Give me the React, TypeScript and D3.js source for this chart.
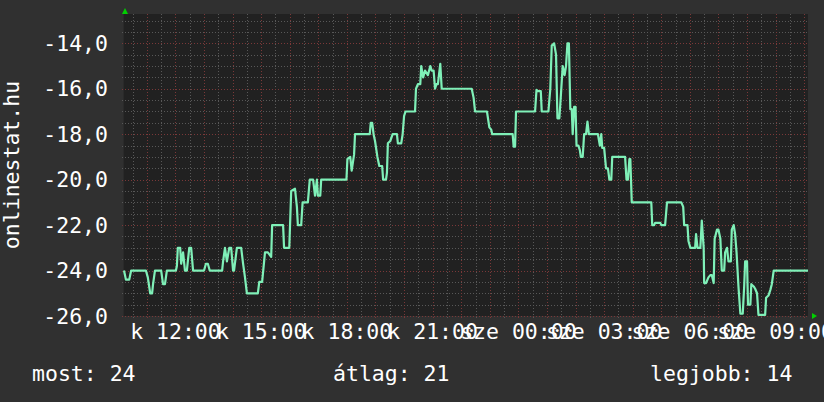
import React from 'react';
import * as d3 from 'd3';

// minutes after the window start (k 10:12) and the value at that moment
const minutes = [
  0, 4, 11, 15, 46, 50, 55, 59, 61, 65, 78, 82, 86, 90, 109, 111, 113, 118, 120, 124,
  128, 132, 137, 141, 145, 168, 172, 176, 180, 206, 208, 212, 216, 221, 225, 229, 231, 237, 246, 250,
  254, 258, 281, 284, 290, 296, 302, 309, 311, 334, 336, 347, 351, 359, 363, 365, 372, 375, 386, 390,
  397, 401, 405, 407, 412, 414, 467, 469, 475, 478, 483, 485, 516, 518, 521, 524, 527, 532, 536, 542,
  544, 550, 552, 554, 559, 564, 573, 575, 582, 585, 588, 591, 611, 613, 617, 622, 624, 628, 632, 638,
  643, 646, 650, 653, 656, 659, 664, 667, 730, 734, 737, 762, 767, 771, 773, 816, 818, 821, 823, 863,
  866, 869, 875, 877, 891, 895, 898, 903, 907, 910, 914, 917, 921, 925, 928, 931, 934, 937, 940, 942,
  945, 948, 950, 954, 957, 959, 963, 966, 970, 973, 976, 995, 999, 1002, 1004, 1008, 1012, 1016, 1019, 1023,
  1025, 1052, 1055, 1058, 1061, 1063, 1066, 1107, 1109, 1113, 1115, 1126, 1128, 1136, 1140, 1170, 1174, 1176, 1183, 1185,
  1189, 1199, 1201, 1204, 1210, 1213, 1217, 1218, 1222, 1227, 1231, 1234, 1238, 1240, 1245, 1248, 1252, 1255, 1260, 1262,
  1266, 1269, 1274, 1276, 1280, 1283, 1286, 1290, 1294, 1299, 1302, 1304, 1308, 1310, 1315, 1317, 1322, 1325, 1329, 1332,
  1346, 1348, 1353, 1357, 1360, 1364, 1436,
];
const values = [
  -24, -24.4, -24.4, -24, -24, -24.3, -25, -25, -24.6, -24, -24, -24.6, -24.6, -24, -24, -23.8, -23, -23, -23.7, -23.2,
  -24, -24, -23, -23, -24, -24, -23.7, -23.7, -24, -24, -23.6, -23, -23.6, -23, -23, -24, -24, -23, -23, -23.7,
  -24.3, -25, -25, -24.5, -24.5, -23.2, -23.2, -23.4, -22, -22, -23, -23, -20.5, -20.4, -21.2, -22, -22, -21, -21, -20,
  -20, -20.7, -20, -20.7, -20.7, -20, -20, -19.1, -19, -19.6, -18.9, -18, -18, -17.5, -17.5, -18, -18.3, -19, -19.4, -19.4,
  -20, -20, -19.7, -18.4, -18.3, -18, -18, -18.4, -18.4, -18, -17.2, -17, -17, -16, -15.8, -15.8, -15, -15.5, -15.2, -15.4,
  -15, -15.2, -15.2, -16, -15.8, -15.8, -14.9, -16, -16, -16.4, -17, -17, -17.7, -17.8, -18, -18, -18.55, -18.55, -17, -17,
  -16.05, -16.1, -16.1, -17, -17, -16, -14.1, -14, -14.5, -17.3, -17.3, -16.35, -15, -15.4, -15, -14, -14, -16.9, -16.9, -18,
  -16.8, -16.8, -18.5, -18.5, -18.7, -19, -19, -18, -18, -17.45, -18, -18, -18.5, -18, -18.6, -18.6, -19.5, -19.5, -20, -20,
  -19, -19, -20, -20, -19.1, -19.1, -21, -21, -22, -22, -21.9, -21.9, -22, -22, -21, -21, -21.2, -22, -22, -22.7,
  -23, -23, -22.4, -23, -23, -21.8, -23, -24.55, -24.55, -24.3, -24.2, -24.2, -24.55, -22.6, -22.2, -22.2, -22.6, -24, -24, -23.2,
  -23, -23.6, -23.6, -22.2, -22, -22.4, -23.2, -24.7, -25.9, -25.9, -24.7, -23.6, -23.6, -25.5, -25.5, -24.6, -24.7, -24.8, -25, -25.95,
  -25.95, -25.2, -25.1, -24.85, -24.6, -24, -24,
];
const yLabels = [-26, -24, -22, -20, -18, -16, -14];
const dayNames = ['v', 'h', 'k', 'sze', 'cs', 'p', 'szo'];
const footer = ['most: 24', 'átlag: 21', 'legjobb: 14'];
const title = 'onlinestat.hu';

const W = 824;
const H = 402;
const left = 124;
const right = 808;
const top = 14;
const bottom = 316;
const font = "'DejaVu Sans Mono', monospace";

const start = new Date(2024, 0, 2, 10, 12);

export default function App() {
  const end = d3.timeMinute.offset(start, minutes[minutes.length - 1]);
  const x = d3.scaleTime().domain([start, end]).range([left, right]);
  const y = d3.scaleLinear().domain([-26, -12.71]).range([bottom, top]);

  const pts = minutes.map((m, i) => [d3.timeMinute.offset(start, m), values[i]] as [Date, number]);
  const line = d3
    .line<[Date, number]>()
    .x((d) => x(d[0]))
    .y((d) => y(d[1]));

  const minorY = d3.range(-26, -12.7, 0.5).filter((v) => v % 2 !== 0);
  const minorX = x.ticks(d3.timeMinute.every(30)).filter((d) => d.getMinutes() !== 0);
  const majorX = x.ticks(d3.timeHour.every(1));
  const labelX = x.ticks(d3.timeHour.every(3));
  const fmt = d3.timeFormat('%H:%M');

  const grey = '#585858';
  const red = '#7a3838';

  return (
    <svg width={W} height={H} style={{ position: 'absolute', left: 0, top: 0 }}>
      <rect width={W} height={H} fill="#303030" />
      <rect x={left} y={top} width={right - left} height={bottom - top} fill="#212121" />

      <g strokeWidth={1} strokeDasharray="1,2" fill="none">
        {minorY.map((v) => (
          <line key={'my' + v} x1={left - 2} x2={right} y1={Math.round(y(v)) + 0.5} y2={Math.round(y(v)) + 0.5} stroke={grey} />
        ))}
        {minorX.map((d) => (
          <line key={'mx' + d.getTime()} x1={Math.round(x(d)) + 0.5} x2={Math.round(x(d)) + 0.5} y1={top} y2={bottom + 2} stroke={grey} />
        ))}
        {yLabels.map((v) => (
          <line key={'ry' + v} x1={left - 2} x2={right} y1={Math.round(y(v)) + 0.5} y2={Math.round(y(v)) + 0.5} stroke={red} />
        ))}
        {majorX.map((d) => (
          <line key={'rx' + d.getTime()} x1={Math.round(x(d)) + 0.5} x2={Math.round(x(d)) + 0.5} y1={top} y2={bottom + 3} stroke={red} />
        ))}
      </g>

      <line x1={left - 0.5} x2={left - 0.5} y1={top} y2={bottom} stroke="#2a2a2a" />
      <polygon points={`${left - 2},${top} ${left + 4},${top} ${left + 1},${top - 6}`} fill="#00d000" />
      <polygon points={`${right + 4},${bottom - 3} ${right + 4},${bottom + 3} ${right + 9},${bottom}`} fill="#00d000" />

      <path d={line(pts) ?? ''} fill="none" stroke="#7ff0b8" strokeWidth={2.2} strokeLinejoin="round" />

      <g fontFamily={font} fontSize={21.5} fill="#ffffff">
        {yLabels.map((v) => (
          <text key={'yl' + v} x={108} y={y(v) + 7.5} textAnchor="end">
            {v.toFixed(1).replace('.', ',')}
          </text>
        ))}
        {labelX.map((d) => (
          <text key={'xl' + d.getTime()} x={x(d)} y={339} textAnchor="middle">
            {dayNames[d.getDay()] + ' ' + fmt(d)}
          </text>
        ))}
        <text transform={`translate(19,${(top + bottom) / 2}) rotate(-90)`} textAnchor="middle">
          {title}
        </text>
        <text x={32} y={381}>{footer[0]}</text>
        <text x={333} y={381}>{footer[1]}</text>
        <text x={650} y={381}>{footer[2]}</text>
      </g>
    </svg>
  );
}
